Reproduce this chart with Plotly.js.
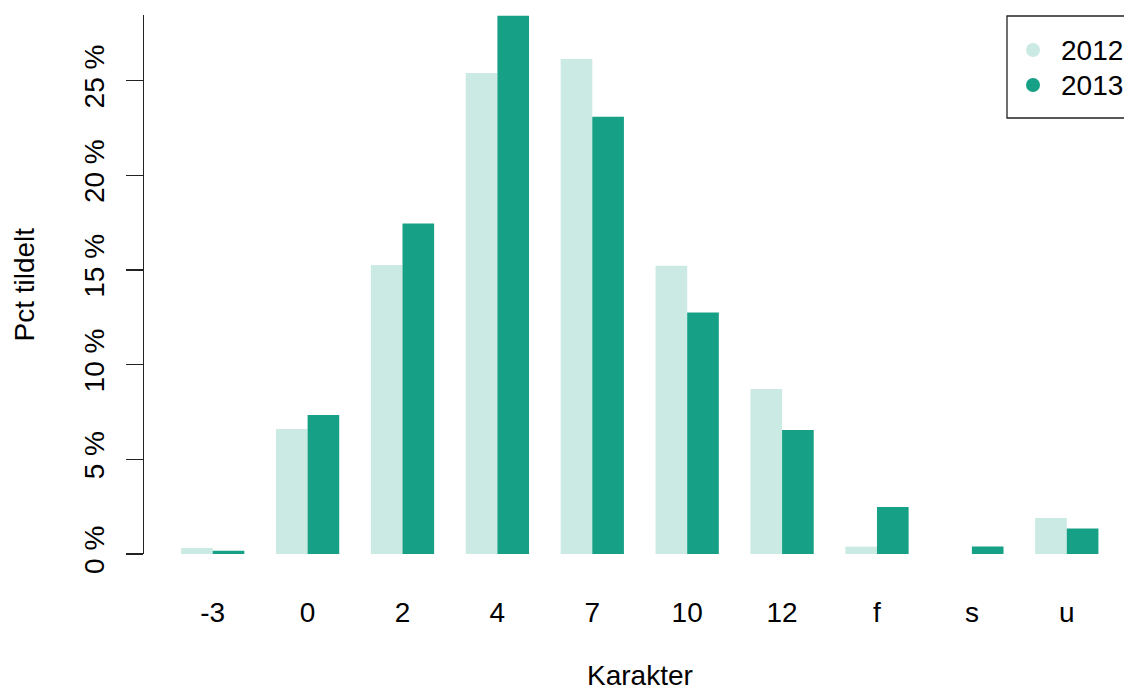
<!DOCTYPE html>
<html>
<head>
<meta charset="utf-8">
<script src="https://cdn.plot.ly/plotly-3.0.1.min.js"></script>
<style>html,body{margin:0;padding:0;background:#fff;}#chart{width:1124px;height:691px;}</style>
</head>
<body>
<div id="chart"></div>
<script>
const categories = ["-3", "0", "2", "4", "7", "10", "12", "f", "s", "u"];
const pct2012 = [0.32, 6.60, 15.27, 25.41, 26.15, 15.23, 8.72, 0.39, 0, 1.90];
const pct2013 = [0.17, 7.34, 17.46, 28.43, 23.10, 12.76, 6.55, 2.48, 0.39, 1.35];
const yTickVals = [0, 5, 10, 15, 20, 25];
const yTickText = ["0 %", "5 %", "10 %", "15 %", "20 %", "25 %"];
const seriesNames = ["2012", "2013"];

const cLight = "#CBEAE3";
const cDark = "#16A085";
const FONT = "Liberation Sans, Arial, Helvetica, sans-serif";
const FS = 28;

// plot area in pixels: x 144..1124, y 15..554
const L = 144, W = 980, T = 15, H = 539;
const px = v => (v - L) / W;
const py = v => (T + H - v) / H;

const traces = [
  {type: "bar", x: categories, y: pct2012, name: seriesNames[0], marker: {color: cLight, line: {width: 0}}, showlegend: false},
  {type: "bar", x: categories, y: pct2013, name: seriesNames[1], marker: {color: cDark, line: {width: 0}}, showlegend: false}
];

const legendColors = [cLight, cDark];
const legendRows = [50, 85];
const shapes = [
  {type: "rect", xref: "paper", yref: "paper", x0: px(1007), x1: px(1140), y0: py(118), y1: py(16),
   line: {color: "#222", width: 1.3}, fillcolor: "rgba(0,0,0,0)", layer: "above"}
];
const annotations = [
  {xref: "paper", yref: "paper", x: px(24), y: 0.5, text: "Pct tildelt", textangle: -90, showarrow: false, xanchor: "center", yanchor: "middle", font: {family: FONT, size: FS, color: "#000"}},
  {xref: "paper", yref: "paper", x: px(639.5), y: py(675), text: "Karakter", showarrow: false, xanchor: "center", yanchor: "middle", font: {family: FONT, size: FS, color: "#000"}}
];
seriesNames.forEach((n, i) => {
  shapes.push({type: "circle", xref: "paper", yref: "paper", xsizemode: "pixel", ysizemode: "pixel",
    xanchor: px(1033), yanchor: py(legendRows[i]), x0: -7, x1: 7, y0: -7, y1: 7,
    line: {width: 0}, fillcolor: legendColors[i], layer: "above"});
  annotations.push({xref: "paper", yref: "paper", x: px(1059), y: py(legendRows[i]), text: n, showarrow: false,
    xanchor: "left", yanchor: "middle", font: {family: FONT, size: FS, color: "#000"}});
});

const layout = {
  width: 1124, height: 691,
  margin: {l: L, r: 0, t: T, b: 691 - T - H, pad: 0},
  paper_bgcolor: "#fff", plot_bgcolor: "#fff",
  font: {family: FONT, size: FS, color: "#000"},
  barmode: "group", bargap: 1/3, bargroupgap: 0,
  showlegend: false,
  xaxis: {
    type: "category", range: [-0.724, 9.603], fixedrange: true,
    showline: false, showgrid: false, zeroline: false, ticks: "",
    tickfont: {family: FONT, size: FS, color: "#000"},
    ticklabelstandoff: 39
  },
  yaxis: {
    range: [0, 28.47], fixedrange: true,
    showline: true, linecolor: "#222", linewidth: 1.3,
    showgrid: false, zeroline: false,
    ticks: "outside", ticklen: 17, tickwidth: 1.3, tickcolor: "#222",
    tickvals: yTickVals, ticktext: yTickText, tickangle: -90,
    tickfont: {family: FONT, size: FS, color: "#000"},
    ticklabelstandoff: 11
  },
  shapes: shapes,
  annotations: annotations
};

Plotly.newPlot("chart", traces, layout, {displayModeBar: false, staticPlot: true});
</script>
</body>
</html>
